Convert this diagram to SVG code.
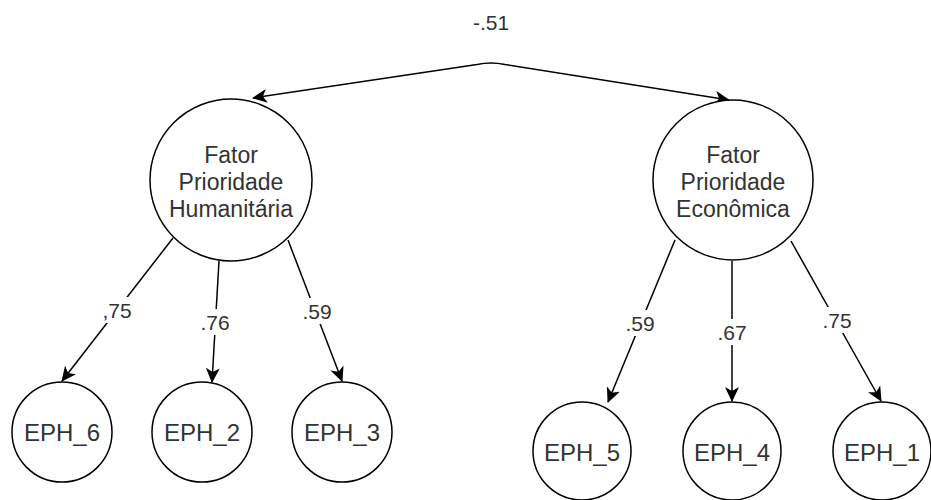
<svg xmlns="http://www.w3.org/2000/svg" width="931" height="500" viewBox="0 0 931 500">
<defs>
<marker id="arr" viewBox="0 0 15 14" refX="14" refY="7" markerWidth="15" markerHeight="14" markerUnits="userSpaceOnUse" orient="auto-start-reverse">
<path d="M0,0 L15,7 L0,14 L4,7 Z" fill="#000"/>
</marker>
<style>
.node{fill:#fff;stroke:#000;stroke-width:1.5}
.edge{fill:none;stroke:#000;stroke-width:1.5;marker-end:url(#arr)}
.t{font-family:"Liberation Sans",Arial,Helvetica,sans-serif;font-size:23px;fill:#333;text-anchor:middle}
.e{font-size:24px}
.lbl{font-family:"Liberation Sans",Arial,Helvetica,sans-serif;font-size:21px;fill:#333;text-anchor:middle}
.bg{fill:#fff}
</style>
</defs>
<g id="connectors">
<path class="edge" style="marker-start:url(#arr)" d="M253,98 L477,64.5 Q491,61.5 505,64.5 L729,100"/>
<path class="edge" d="M173,238 L62,381"/>
<path class="edge" d="M219,261 L212,382"/>
<path class="edge" d="M288,240 L342,381"/>
<path class="edge" d="M675,240 L608,402"/>
<path class="edge" d="M732,261 L732,401"/>
<path class="edge" d="M791,241 L881,401"/>
</g>
<g id="labels">
<text class="lbl" x="491" y="29.5">-.51</text>
<rect class="bg" x="101" y="297" width="32" height="26"/>
<text class="lbl" x="117" y="317.5">,75</text>
<rect class="bg" x="199" y="309" width="32" height="26"/>
<text class="lbl" x="215" y="329.5">.76</text>
<rect class="bg" x="301" y="298" width="32" height="26"/>
<text class="lbl" x="317" y="318.5">.59</text>
<rect class="bg" x="624" y="310" width="32" height="26"/>
<text class="lbl" x="640" y="330.5">.59</text>
<rect class="bg" x="716" y="319" width="32" height="26"/>
<text class="lbl" x="732" y="339.5">.67</text>
<rect class="bg" x="821" y="307" width="32" height="26"/>
<text class="lbl" x="837" y="327.5">.75</text>
</g>
<g id="fator-humanitaria">
<circle class="node" cx="231" cy="180" r="81"/>
<text class="t" x="231" y="162.5">Fator</text>
<text class="t" x="231" y="190">Prioridade</text>
<text class="t" x="231" y="217">Humanitária</text>
</g>
<g id="fator-economica">
<circle class="node" cx="733" cy="180" r="80"/>
<text class="t" x="733" y="162.5">Fator</text>
<text class="t" x="733" y="190">Prioridade</text>
<text class="t" x="733" y="217">Econômica</text>
</g>
<g id="eph6"><circle class="node" cx="62" cy="432" r="50"/><text class="t e" x="62" y="441">EPH_6</text></g>
<g id="eph2"><circle class="node" cx="202" cy="432" r="50"/><text class="t e" x="202" y="441">EPH_2</text></g>
<g id="eph3"><circle class="node" cx="342" cy="432" r="50"/><text class="t e" x="342" y="441">EPH_3</text></g>
<g id="eph5"><circle class="node" cx="582" cy="451" r="49"/><text class="t e" x="582" y="461">EPH_5</text></g>
<g id="eph4"><circle class="node" cx="732" cy="451" r="49"/><text class="t e" x="732" y="461">EPH_4</text></g>
<g id="eph1"><circle class="node" cx="882" cy="451" r="49"/><text class="t e" x="882" y="461">EPH_1</text></g>
</svg>
